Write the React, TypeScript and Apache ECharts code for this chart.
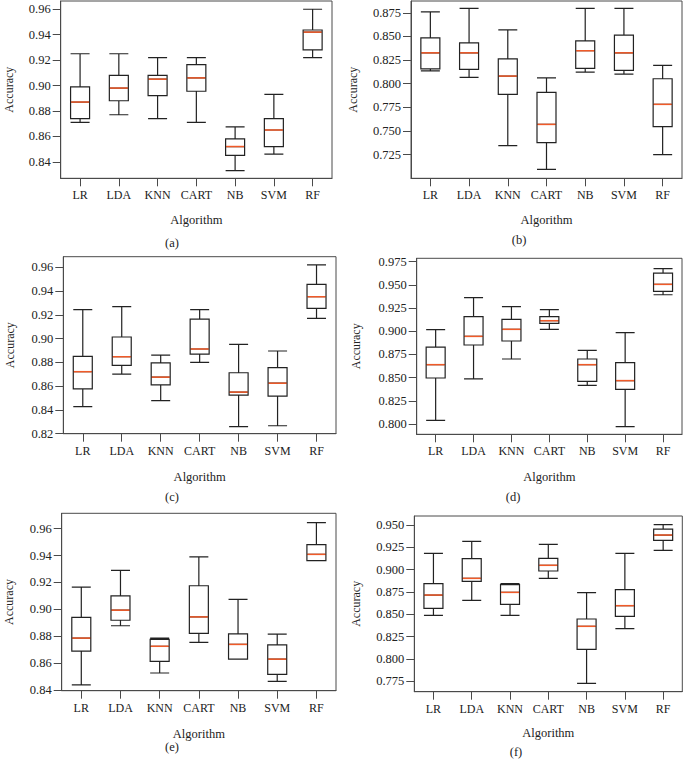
import React, { useEffect, useRef } from "react";
import * as echarts from "echarts";

const categories = ["LR", "LDA", "KNN", "CART", "NB", "SVM", "RF"];

// [min, Q1, median, Q3, max]
const panelA = [
  [0.871, 0.874, 0.887, 0.899, 0.925],
  [0.877, 0.888, 0.898, 0.908, 0.925],
  [0.874, 0.892, 0.905, 0.908, 0.922],
  [0.871, 0.8955, 0.906, 0.9165, 0.922],
  [0.833, 0.845, 0.852, 0.858, 0.8675],
  [0.846, 0.852, 0.865, 0.874, 0.893],
  [0.922, 0.928, 0.942, 0.9437, 0.96],
];
const panelB = [
  [0.8137, 0.8158, 0.8327, 0.8486, 0.876],
  [0.8067, 0.8151, 0.8327, 0.8433, 0.8796],
  [0.7345, 0.7887, 0.8081, 0.8264, 0.857],
  [0.7095, 0.7377, 0.757, 0.7908, 0.8063],
  [0.8123, 0.8162, 0.8349, 0.8454, 0.8796],
  [0.8102, 0.8141, 0.8327, 0.8514, 0.8796],
  [0.725, 0.7546, 0.7782, 0.8053, 0.8194],
];
const panelC = [
  [0.8428, 0.8578, 0.8722, 0.8851, 0.9244],
  [0.8702, 0.8775, 0.8848, 0.9014, 0.927],
  [0.8479, 0.8611, 0.8676, 0.8797, 0.8862],
  [0.88, 0.887, 0.8913, 0.9165, 0.9244],
  [0.8259, 0.8525, 0.855, 0.8713, 0.8952],
  [0.8267, 0.8516, 0.8625, 0.8757, 0.8896],
  [0.9171, 0.9255, 0.9353, 0.9457, 0.9622],
];
const panelD = [
  [0.804, 0.8496, 0.864, 0.883, 0.9017],
  [0.8486, 0.8852, 0.8945, 0.9157, 0.9362],
  [0.8701, 0.8895, 0.9021, 0.9129, 0.9265],
  [0.9021, 0.9085, 0.9114, 0.9157, 0.9233],
  [0.8417, 0.846, 0.864, 0.8701, 0.8795],
  [0.7972, 0.8374, 0.8468, 0.8662, 0.8985],
  [0.9394, 0.943, 0.9506, 0.9628, 0.9675],
];
const panelE = [
  [0.8437, 0.8688, 0.8785, 0.894, 0.9165],
  [0.8877, 0.8918, 0.8993, 0.9099, 0.929],
  [0.8525, 0.8612, 0.8724, 0.8775, 0.8785],
  [0.8753, 0.882, 0.8943, 0.9175, 0.939],
  [0.8628, 0.8628, 0.8738, 0.8817, 0.9073],
  [0.8462, 0.8514, 0.8628, 0.8735, 0.8815],
  [0.9362, 0.9362, 0.9409, 0.9481, 0.9645],
];
const panelF = [
  [0.8489, 0.8567, 0.8716, 0.8843, 0.9183],
  [0.8657, 0.8869, 0.8903, 0.9123, 0.9317],
  [0.8489, 0.8612, 0.8746, 0.8832, 0.8843],
  [0.8903, 0.8985, 0.9049, 0.9127, 0.9284],
  [0.7727, 0.8108, 0.8366, 0.8448, 0.8743],
  [0.834, 0.8478, 0.8597, 0.8776, 0.9183],
  [0.9216, 0.9328, 0.9388, 0.9455, 0.9504],
];

const ticksA = [0.84, 0.86, 0.88, 0.9, 0.92, 0.94, 0.96];
const ticksB = [0.725, 0.75, 0.775, 0.8, 0.825, 0.85, 0.875];
const ticksC = [0.82, 0.84, 0.86, 0.88, 0.9, 0.92, 0.94, 0.96];
const ticksD = [0.8, 0.825, 0.85, 0.875, 0.9, 0.925, 0.95, 0.975];
const ticksE = [0.84, 0.86, 0.88, 0.9, 0.92, 0.94, 0.96];
const ticksF = [0.775, 0.8, 0.825, 0.85, 0.875, 0.9, 0.925, 0.95];

const captions = ["(a)", "(b)", "(c)", "(d)", "(e)", "(f)"];
const xAxisTitle = "Algorithm";
const yAxisTitle = "Accuracy";

const FONT = "Liberation Serif";
const TXT = "#222";
const FRAME = "#4a4a4a";
const BOX = "#222";
const MEDIAN = "#f05a28";

const panels = [
  { data: panelA, ticks: ticksA, dec: 2, min: 0.827, max: 0.9665, grid: { left: 60.7, top: 1, width: 271.3, height: 177.3 }, yGap: 46, xGap: 35, cap: [172, 243] },
  { data: panelB, ticks: ticksB, dec: 3, min: 0.7, max: 0.8875, grid: { left: 411, top: 1, width: 271, height: 177.3 }, yGap: 52, xGap: 35, cap: [519, 240] },
  { data: panelC, ticks: ticksC, dec: 2, min: 0.82, max: 0.969, grid: { left: 63.3, top: 256.7, width: 272.7, height: 177 }, yGap: 47, xGap: 37, cap: [172, 497] },
  { data: panelD, ticks: ticksD, dec: 3, min: 0.7889, max: 0.9787, grid: { left: 416.7, top: 258.3, width: 265.3, height: 176 }, yGap: 55, xGap: 36.5, cap: [513, 497] },
  { data: panelE, ticks: ticksE, dec: 2, min: 0.8393, max: 0.9715, grid: { left: 61.7, top: 513.3, width: 274.3, height: 177.4 }, yGap: 47, xGap: 36.5, cap: [172, 747] },
  { data: panelF, ticks: ticksF, dec: 3, min: 0.7634, max: 0.9601, grid: { left: 414.3, top: 516, width: 268, height: 175.7 }, yGap: 52, xGap: 34.5, cap: [516, 752] },
];

export default function App() {
  const ref = useRef<HTMLDivElement>(null);

  useEffect(() => {
    document.body.style.margin = "0";
    if (!ref.current) return;
    const chart = echarts.init(ref.current, undefined, { renderer: "svg" });

    const grids: any[] = [];
    const xAxes: any[] = [];
    const yAxes: any[] = [];
    const series: any[] = [];
    const graphics: any[] = [];

    panels.forEach((p, i) => {
      grids.push({
        ...p.grid,
        show: true,
        borderColor: FRAME,
        borderWidth: 1,
        backgroundColor: "transparent",
        containLabel: false,
      });
      xAxes.push({
        type: "category",
        gridIndex: i,
        data: categories,
        name: xAxisTitle,
        nameLocation: "middle",
        nameGap: p.xGap,
        nameTextStyle: { fontFamily: FONT, fontSize: 12.5, color: TXT },
        axisLine: { show: true, lineStyle: { color: FRAME, width: 1 } },
        axisTick: { show: true, alignWithLabel: true, interval: 0, length: 8, lineStyle: { color: FRAME } },
        axisLabel: { fontFamily: FONT, fontSize: 12, color: TXT, margin: 11, interval: 0, hideOverlap: false },
        splitLine: { show: false },
      });
      yAxes.push({
        type: "value",
        gridIndex: i,
        min: p.min,
        max: p.max,
        name: yAxisTitle,
        nameLocation: "middle",
        nameGap: p.yGap,
        nameTextStyle: { fontFamily: FONT, fontSize: 12, color: TXT },
        axisLine: { show: true, lineStyle: { color: FRAME, width: 1 } },
        axisTick: { show: true, length: 8, lineStyle: { color: FRAME }, customValues: p.ticks },
        axisLabel: {
          fontFamily: FONT,
          fontSize: 12.5,
          color: TXT,
          margin: 10,
          customValues: p.ticks,
          formatter: (v: number) => v.toFixed(p.dec),
        },
        splitLine: { show: false },
      });
      series.push({
        type: "boxplot",
        xAxisIndex: i,
        yAxisIndex: i,
        data: p.data,
        boxWidth: [19, 19],
        itemStyle: { color: "#fff", borderColor: BOX, borderWidth: 1.2 },
        emphasis: { disabled: true },
        z: 3,
      });
      series.push({
        type: "custom",
        xAxisIndex: i,
        yAxisIndex: i,
        data: p.data.map((d, k) => [k, d[2]]),
        encode: { x: 0, y: 1 },
        z: 5,
        renderItem: (params: any, api: any) => {
          const pt = api.coord([api.value(0), api.value(1)]);
          const hw = 9;
          return {
            type: "line",
            shape: { x1: pt[0] - hw, y1: pt[1], x2: pt[0] + hw, y2: pt[1] },
            style: { stroke: MEDIAN, lineWidth: 1.5 },
          };
        },
      });
      graphics.push({
        type: "text",
        x: p.cap[0],
        y: p.cap[1],
        style: {
          text: captions[i],
          fontFamily: FONT,
          fontSize: 12.5,
          fill: TXT,
          textAlign: "center",
          textVerticalAlign: "middle",
        },
      });
    });

    chart.setOption({
      animation: false,
      backgroundColor: "#fff",
      grid: grids,
      xAxis: xAxes,
      yAxis: yAxes,
      series,
      graphic: graphics,
    });

    return () => chart.dispose();
  }, []);

  return <div ref={ref} style={{ width: 683, height: 760 }} />;
}
